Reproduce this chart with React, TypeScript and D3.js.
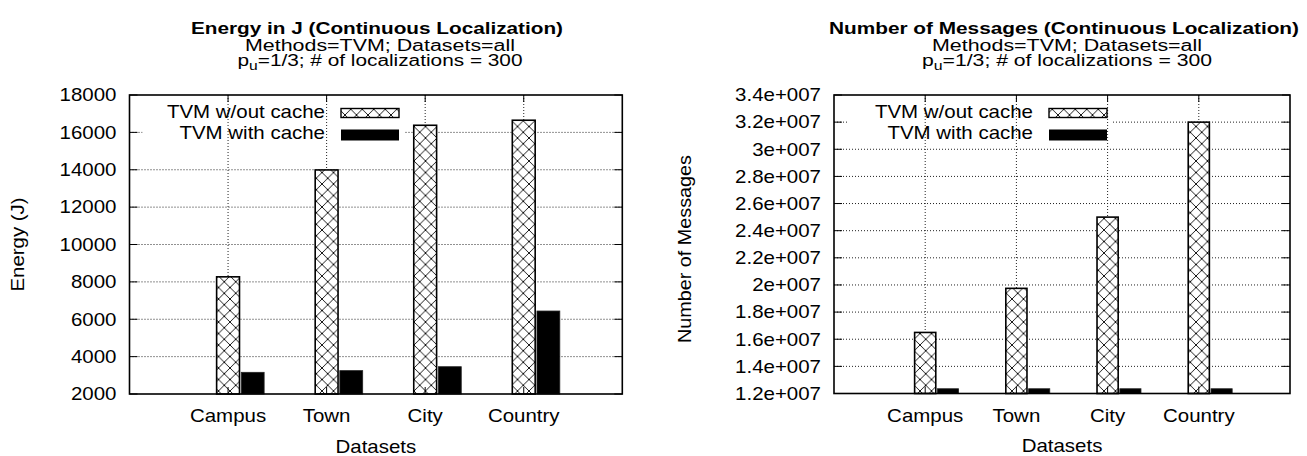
import React from "react";
import * as d3 from "d3";

const categories = ["Campus", "Town", "City", "Country"];
const seriesNames = ["TVM w/out cache", "TVM with cache"];

const energyNoCache = [8270, 13990, 16380, 16650];
const energyCache = [3160, 3250, 3460, 6440];
const energyTicks = [2000, 4000, 6000, 8000, 10000, 12000, 14000, 16000, 18000];
const energyTickLabels = ["2000", "4000", "6000", "8000", "10000", "12000", "14000", "16000", "18000"];

const msgNoCache = [1.65e7, 1.975e7, 2.5e7, 3.2e7];
const msgCache = [1.235e7, 1.235e7, 1.235e7, 1.235e7];
const msgTicks = [1.2e7, 1.4e7, 1.6e7, 1.8e7, 2.0e7, 2.2e7, 2.4e7, 2.6e7, 2.8e7, 3.0e7, 3.2e7, 3.4e7];
const msgTickLabels = ["1.2e+007", "1.4e+007", "1.6e+007", "1.8e+007", "2e+007", "2.2e+007", "2.4e+007", "2.6e+007", "2.8e+007", "3e+007", "3.2e+007", "3.4e+007"];

const FONT = "'Liberation Sans', Arial, Helvetica, sans-serif";
const FS = 17.5;
const SX = 1.17;

type ChartProps = {
  left: number; right: number; top: number; bottom: number;
  yDomain: [number, number];
  ticks: number[]; tickLabels: string[];
  a: number[]; b: number[];
  title: string; titleW: number; line2W: number; line3W: number; titleX: number;
  yLabel: string; yLabelX: number; yLabelY: number; yLabelW: number;
  legendEnd: number;
};

function SText({ x, y, anchor, children, size = FS, sx = SX, weight = "normal" }: any) {
  return (
    <g transform={`translate(${x},${y}) scale(${sx},1)`}>
      <text x={0} y={0} textAnchor={anchor} fontFamily={FONT} fontSize={size} fontWeight={weight} fill="#000">
        {children}
      </text>
    </g>
  );
}

function Chart(p: ChartProps) {
  const x = d3.scaleLinear().domain([-1, 4]).range([p.left, p.right]);
  const y = d3.scaleLinear().domain(p.yDomain).range([p.bottom, p.top]);
  const bw = 0.232;
  const off = 0.25;
  const grid = "#222";
  return (
    <g>
      {p.ticks.slice(1, -1).map((t) => (
        <line key={"h" + t} x1={p.left} x2={p.right} y1={y(t)} y2={y(t)} stroke={grid} strokeWidth={1} strokeDasharray="1 2" />
      ))}
      <rect x={p.left + 13} y={p.top + 2} width={p.legendEnd + 80 - (p.left + 13)} height={47} fill="#fff" />
      {categories.map((c, i) => (
        <line key={"v" + c} x1={x(i)} x2={x(i)} y1={p.top} y2={p.bottom} stroke={grid} strokeWidth={1} strokeDasharray="1 2" />
      ))}
      {categories.map((c, i) => {
        const x0 = x(i - bw / 2);
        const x1 = x(i + off - bw / 2);
        const w = x(bw) - x(0);
        return (
          <g key={"b" + c}>
            <rect x={x0} y={y(p.a[i])} width={w} height={p.bottom - y(p.a[i])} fill="url(#hatch)" stroke="#000" strokeWidth={1.6} />
            <rect x={x1} y={y(p.b[i])} width={w} height={p.bottom - y(p.b[i])} fill="#000" stroke="#222" strokeWidth={0.8} />
          </g>
        );
      })}
      {p.ticks.map((t) => (
        <g key={"t" + t}>
          <line x1={p.left} x2={p.left + 8} y1={y(t)} y2={y(t)} stroke="#000" strokeWidth={1} />
          <line x1={p.right} x2={p.right - 8} y1={y(t)} y2={y(t)} stroke="#000" strokeWidth={1} />
        </g>
      ))}
      {categories.map((c, i) => (
        <g key={"xt" + c}>
          <line x1={x(i)} x2={x(i)} y1={p.top} y2={p.top + 7} stroke="#000" strokeWidth={1} />
          <line x1={x(i)} x2={x(i)} y1={p.bottom} y2={p.bottom - 7} stroke="#000" strokeWidth={1} />
        </g>
      ))}
      <rect x={p.left} y={p.top} width={p.right - p.left} height={p.bottom - p.top} fill="none" stroke="#000" strokeWidth={1.6} />
      {p.ticks.map((t, i) => (
        <SText key={"yl" + t} x={p.left - 13} y={y(t) + 6.3} anchor="end">{p.tickLabels[i]}</SText>
      ))}
      {categories.map((c, i) => (
        <SText key={"xl" + c} x={x(i)} y={p.bottom + 28} anchor="middle">{c}</SText>
      ))}
      <SText x={(p.left + p.right) / 2} y={p.bottom + 58.7} anchor="middle">Datasets</SText>
      <text transform={`translate(${p.yLabelX},${p.yLabelY}) rotate(-90)`} textAnchor="middle" fontFamily={FONT} fontSize={FS}
        textLength={p.yLabelW} lengthAdjust="spacingAndGlyphs">{p.yLabel}</text>
      <text x={p.titleX} y={34} textAnchor="middle" fontFamily={FONT} fontSize={16} fontWeight="bold"
        textLength={p.titleW} lengthAdjust="spacingAndGlyphs">{p.title}</text>
      <text x={p.titleX + 3} y={50.5} textAnchor="middle" fontFamily={FONT} fontSize={16}
        textLength={p.line2W} lengthAdjust="spacingAndGlyphs">Methods=TVM; Datasets=all</text>
      <text x={p.titleX + 3} y={66} textAnchor="middle" fontFamily={FONT} fontSize={16}
        textLength={p.line3W} lengthAdjust="spacingAndGlyphs">p<tspan dy={4} fontSize={12}>u</tspan><tspan dy={-4}>=1/3; # of localizations = 300</tspan></text>
      <SText x={p.legendEnd} y={118} anchor="end">{seriesNames[0]}</SText>
      <SText x={p.legendEnd} y={138.5} anchor="end">{seriesNames[1]}</SText>
      <rect x={p.legendEnd + 16} y={108.5} width={58} height={9} fill="url(#hatch)" stroke="#000" strokeWidth={1.4} />
      <rect x={p.legendEnd + 16} y={129.5} width={58} height={11} fill="#000" />
    </g>
  );
}

export default function App() {
  return (
    <svg width={1307} height={456} style={{ position: "absolute", left: 0, top: 0, display: "block", background: "#fff" }}>
      <defs>
        <pattern id="hatch" patternUnits="userSpaceOnUse" width={11.5} height={11.5}>
          <rect width={11.5} height={11.5} fill="#fff" />
          <path d="M0,0 L11.5,11.5 M0,11.5 L11.5,0" stroke="#000" strokeWidth={0.9} />
        </pattern>
      </defs>
      <rect width={1307} height={456} fill="#fff" />
      <Chart left={129.5} right={622.3} top={95} bottom={394} yDomain={[2000, 18000]}
        ticks={energyTicks} tickLabels={energyTickLabels} a={energyNoCache} b={energyCache}
        title="Energy in J (Continuous Localization)" titleW={372} line2W={270} line3W={285} titleX={377}
        yLabel="Energy (J)" yLabelX={24} yLabelY={244.5} yLabelW={94}
        legendEnd={325} />
      <Chart left={834} right={1290} top={95} bottom={393.5} yDomain={[1.2e7, 3.4e7]}
        ticks={msgTicks} tickLabels={msgTickLabels} a={msgNoCache} b={msgCache}
        title="Number of Messages (Continuous Localization)" titleW={470} line2W={270} line3W={290} titleX={1064}
        yLabel="Number of Messages" yLabelX={691} yLabelY={249} yLabelW={188}
        legendEnd={1033} />
    </svg>
  );
}
